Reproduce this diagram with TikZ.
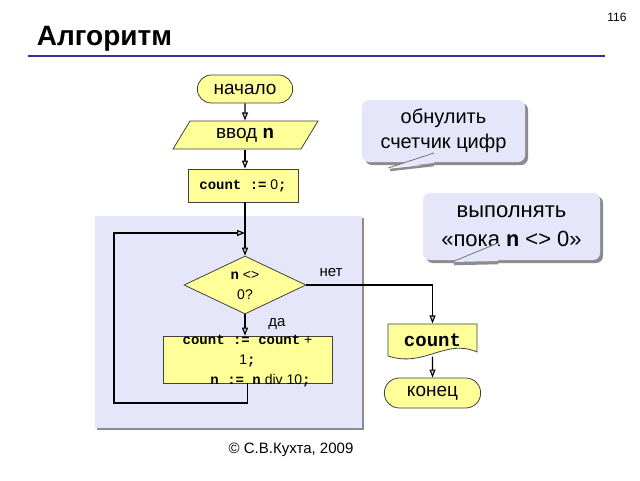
\documentclass[tikz,border=0pt]{standalone}
\usepackage{fontspec}
\setmainfont{Liberation Sans}
\newfontfamily\codefont{Liberation Mono}
\usetikzlibrary{%
  arrows.meta,%
  shapes.geometric,% diamond
  shapes.misc,% rounded rectangle
  shadows,%
  calc%
}
\definecolor{blockyellow}{RGB}{255,255,153}
\definecolor{looplav}{RGB}{230,230,250}
\definecolor{titleblue}{RGB}{51,51,153}
\newcommand{\prg}[1]{{\codefont\bfseries #1}}

\begin{document}
\begin{tikzpicture}
[x=1pt, y=-1pt, line width=1.1pt, >={Triangle[length=8pt,width=6pt,fill=black!20]},
term/.style={rounded rectangle, draw=black!75, line width=0.8pt, fill=blockyellow, minimum height=28, lbl},
proc/.style={rectangle, draw=black!75, line width=0.8pt, fill=blockyellow, inner sep=0pt},
cond/.style={diamond, draw=black!75, line width=0.8pt, fill=blockyellow, inner sep=0pt, minimum width=122, minimum height=58},
note/.style={rectangle, rounded corners=7pt, fill=looplav, inner sep=0pt, align=center,
  drop shadow={shadow xshift=3pt, shadow yshift=-3pt, fill=black!45, opacity=1}},
lbl/.style={font=\fontsize{19}{23}\selectfont},
small/.style={font=\fontsize{14}{20}\selectfont}]

\useasboundingbox[fill=white] (0,0) rectangle (640,480);

% header
\node[anchor=base west, font=\bfseries\fontsize{28}{30}\selectfont] (title) at (33,45) {Алгоритм};
\node[font=\fontsize{12}{14}\selectfont] (page) at (617,17) {116};
\draw[titleblue, line width=2.2pt] (28,56) -- (605,56);

% loop area
\fill[black!45] (97,218) rectangle (364,430);
\fill[looplav] (95,216) rectangle (362,428);

\node[term, minimum width=102] (start) at (245,89) {начало};

\filldraw[fill=blockyellow, draw=black!75, line width=0.8pt]
  (173,149) -- (301,149) -- (318,121) -- (190,121) -- cycle;
\node[lbl, minimum height=28] (inp) at (245,135) {ввод \prg{n}};

\node[proc, minimum width=110, minimum height=33, small] (init) at (243,185.5) {\prg{count :=} 0\prg{;}};
\coordinate (junc) at (245,233);
\node[cond, small, align=center] (check) at (245,285) {\prg{n} <>\\0?};
\node[proc, minimum width=169, minimum height=47] (body) at (247.5,359.5) {};
\node[small, align=center] (bodytxt) at (247.5,361.5)
  {\prg{count := count} +\\1\prg{;}\\\hspace*{26pt}\prg{n := n} div 10\prg{;}};
\coordinate (loopcorner) at (114,403);

\filldraw[fill=blockyellow, draw=black!75, line width=0.8pt]
  (388,324) -- (477,324) -- (477,352) .. controls (445,338) and (425,368) .. (388,356) -- cycle;
\node[font=\codefont\bfseries\fontsize{19}{22}\selectfont, minimum height=32, inner sep=0pt] (outp) at (432.5,340) {count};
\node[term, minimum width=103, minimum height=30] (fin) at (432.5,393) {конец};

\draw[->] (start) -- (inp);
\draw[->] (inp) -- (init.north -| inp);
\draw (init.south -| junc) -- (junc);
\draw[->] (junc) -- (check);
\draw[->] (check.south) -- (check.south |- body.north);
\draw[->] (body.south) |- (loopcorner) |- (junc);
\draw[->] (check.east) -| (outp.north);
\draw[->] (outp.south) -- (fin);

\node[font=\fontsize{15}{18}\selectfont] (no) at (331,273) {нет};
\node[font=\fontsize{15}{18}\selectfont] (yes) at (277,324) {да};

% callouts
\node[note, font=\fontsize{20}{25}\selectfont, minimum width=163, minimum height=62] (zero) at (443.5,131)
  {обнулить\\счетчик цифр};
\draw[black!45, line width=2.5pt] (390,170) -- (434,165);
\fill[looplav] (388,168) -- (434,153) -- (434,163) -- cycle;
\draw[black!55, line width=0.8pt] (388,168) -- (434,153);

\node[note, font=\fontsize{22}{29}\selectfont, minimum width=177, minimum height=67] (whilenote) at (511.5,226.5)
  {выполнять\\«пока \prg{n} <> 0»};
\draw[black!45, line width=2.5pt] (454,264) -- (498,263);
\fill[looplav] (452,262) -- (498,243) -- (498,261) -- cycle;
\draw[black!55, line width=0.8pt] (452,262) -- (498,243);

\node[font=\fontsize{15}{18}\selectfont] (copy) at (291,450) {© С.В.Кухта, 2009};
\end{tikzpicture}
\end{document}
